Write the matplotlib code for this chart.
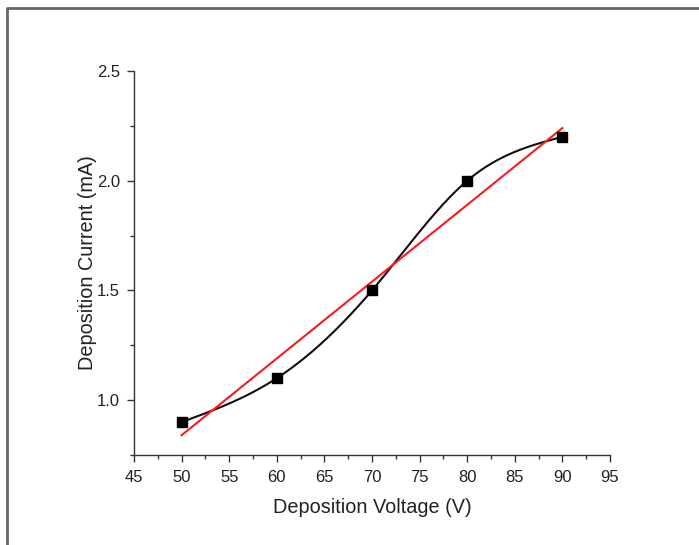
import numpy as np
import matplotlib
matplotlib.use("Agg")
import matplotlib.pyplot as plt
from matplotlib.lines import Line2D
from matplotlib.ticker import MultipleLocator

voltage = [50, 60, 70, 80, 90]
current = [0.9, 1.1, 1.5, 2.0, 2.2]


def natural_spline(x, y, n=300):
    x = np.asarray(x, float)
    y = np.asarray(y, float)
    k = len(x)
    h = np.diff(x)
    A = np.zeros((k, k))
    r = np.zeros(k)
    A[0, 0] = A[-1, -1] = 1
    for i in range(1, k - 1):
        A[i, i - 1] = h[i - 1]
        A[i, i] = 2 * (h[i - 1] + h[i])
        A[i, i + 1] = h[i]
        r[i] = 6 * ((y[i + 1] - y[i]) / h[i] - (y[i] - y[i - 1]) / h[i - 1])
    m = np.linalg.solve(A, r)
    xs = np.linspace(x[0], x[-1], n)
    idx = np.clip(np.searchsorted(x, xs) - 1, 0, k - 2)
    t0, t1 = xs - x[idx], x[idx + 1] - xs
    hi = h[idx]
    ys = (m[idx] * t1**3 / (6 * hi) + m[idx + 1] * t0**3 / (6 * hi)
          + (y[idx] / hi - m[idx] * hi / 6) * t1
          + (y[idx + 1] / hi - m[idx + 1] * hi / 6) * t0)
    return xs, ys


plt.rcParams["font.family"] = ["Liberation Sans", "DejaVu Sans"]

fig = plt.figure(figsize=(6.99, 5.45), dpi=100)
ax = fig.add_axes([134 / 699, 1 - 455 / 545, 476 / 699, 384 / 545])

xs, ys = natural_spline(voltage, current)
ax.plot(xs, ys, color="#111111", lw=1.5, zorder=2)

slope, icpt = np.polyfit(voltage, current, 1)
fx = np.array([voltage[0], voltage[-1]])
ax.plot(fx, slope * fx + icpt, color="#ff1a1a", lw=1.5, zorder=3)

ax.plot(voltage, current, ls="none", marker="s", ms=6.5, color="black", zorder=4)

ax.set_xlim(45, 95)
ax.set_ylim(0.75, 2.5)
ax.xaxis.set_major_locator(MultipleLocator(5))
ax.xaxis.set_minor_locator(MultipleLocator(2.5))
ax.yaxis.set_minor_locator(MultipleLocator(0.25))
ax.set_yticks([1.0, 1.5, 2.0, 2.5])
ax.set_yticklabels(["1.0", "1.5", "2.0", "2.5"])
for sp in ["top", "right"]:
    ax.spines[sp].set_visible(False)
for sp in ["left", "bottom"]:
    ax.spines[sp].set_color("#333333")
    ax.spines[sp].set_linewidth(1.0)
ax.tick_params(which="major", direction="out", length=5, width=1.0,
               color="#333333", labelsize=12, labelcolor="#222222")
ax.tick_params(axis="x", which="major", pad=6)
ax.tick_params(axis="y", which="major", pad=5)
ax.tick_params(which="minor", direction="out", length=3, width=1.0, color="#333333")

ax.set_xlabel("Deposition Voltage (V)", fontsize=14.3, color="#222222", labelpad=9)
ax.set_ylabel("Deposition Current (mA)", fontsize=14.3, color="#222222", labelpad=0)

# page frame (left and top edges)
fig.add_artist(Line2D([7 / 699, 7 / 699, 1], [0, 1 - 8 / 545, 1 - 8 / 545],
                      transform=fig.transFigure, color="#666666", lw=2))

fig.savefig("out.png", dpi=100)
